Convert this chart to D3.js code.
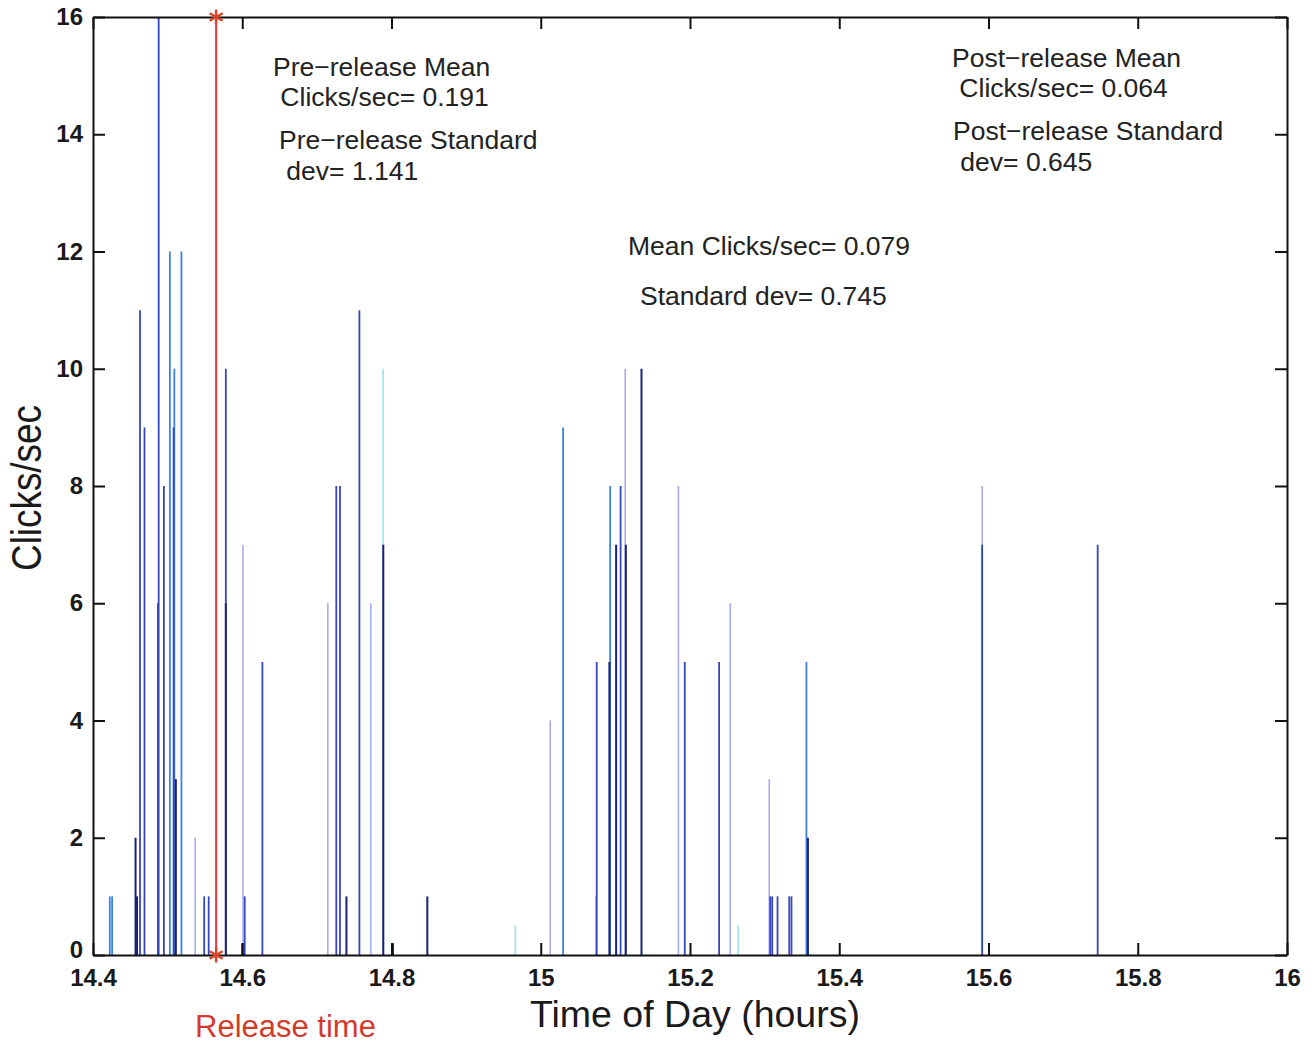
<!DOCTYPE html>
<html>
<head>
<meta charset="utf-8">
<script src="https://cdn.jsdelivr.net/npm/d3@7"></script>
<style>
  html, body { margin: 0; padding: 0; background: #fff; }
  svg { display: block; font-family: "Liberation Sans", Arial, Helvetica, sans-serif; }
</style>
</head>
<body>
<svg id="chart" width="1314" height="1045"></svg>
<script>
// ---- data (time of day in hours, clicks/sec) ----
const navyTimes  = [14.457, 14.459, 14.511, 14.578, 14.600, 14.7396, 14.789, 14.802, 14.848, 15.092, 15.101, 15.114, 15.135, 15.358];
const navyValues = [2, 1, 3, 6, 0.2, 1, 7, 0.2, 1, 5, 7, 7, 10, 2];

const blueTimes  = [14.463, 14.469, 14.487, 14.488, 14.495, 14.508, 14.549, 14.555, 14.578, 14.6033, 14.627, 14.726, 14.731, 14.757, 15.075, 15.107, 15.193, 15.239, 15.3075, 15.3102, 15.3173, 15.333, 15.336, 15.5915, 15.7463];
const blueValues = [11, 9, 6, 16, 8, 9, 1, 1, 10, 1, 5, 8, 8, 11, 5, 8, 5, 5, 1, 1, 1, 1, 1, 7, 7];

const lightTimes  = [14.4225, 14.4256, 14.503, 14.509, 14.5185, 15.030, 15.093, 15.356];
const lightValues = [1, 1, 12, 10, 12, 9, 8, 5];

const paleTimes  = [14.537, 14.601, 14.7147, 14.7723, 15.0127, 15.074, 15.1132, 15.1845, 15.2539, 15.3062, 15.5915];
const paleValues = [2, 7, 6, 6, 4, 1, 10, 8, 6, 3, 8];

const cyanTimes  = [14.7887, 14.966, 15.2646];
const cyanValues = [10, 0.5, 0.5];

const releaseTime = 14.565;

const xTicks = [14.4, 14.6, 14.8, 15, 15.2, 15.4, 15.6, 15.8, 16];
const xTickLabels = ["14.4", "14.6", "14.8", "15", "15.2", "15.4", "15.6", "15.8", "16"];
const yTicks = [0, 2, 4, 6, 8, 10, 12, 14, 16];

const preStats  = ["Pre\u2212release Mean", " Clicks/sec= 0.191", "Pre\u2212release Standard", " dev= 1.141"];
const allStats  = ["Mean Clicks/sec= 0.079", "Standard dev= 0.745"];
const postStats = ["Post\u2212release Mean", " Clicks/sec= 0.064", "Post\u2212release Standard", " dev= 0.645"];

(function () {
// ---- layout ----
const L = 93, R = 1287, T = 17, B = 955;
const svg = d3.select("#chart");
const x = d3.scaleLinear().domain([14.4, 16]).range([L, R]);
const y = d3.scaleLinear().domain([0, 16]).range([B, T]);

const series = [
  {t: paleTimes,  v: paleValues,  c: "#a3adef", w: 1.6},
  {t: cyanTimes,  v: cyanValues,  c: "#9fe0f0", w: 1.6},
  {t: lightTimes, v: lightValues, c: "#3d82e2", w: 1.8},
  {t: blueTimes,  v: blueValues,  c: "#3646c0", w: 1.8},
  {t: navyTimes,  v: navyValues,  c: "#1b2175", w: 2}
];

const gBars = svg.append("g");
series.forEach(s => {
  gBars.append("g").selectAll("line")
    .data(d3.zip(s.t, s.v))
    .join("line")
    .attr("x1", d => x(d[0])).attr("x2", d => x(d[0]))
    .attr("y1", y(0)).attr("y2", d => y(d[1]))
    .attr("stroke", s.c).attr("stroke-width", s.w);
});

// ---- axes (MATLAB-style box with inward ticks) ----
const ax = svg.append("g");
const axBottom = d3.axisBottom(x).tickValues(xTicks).tickSizeInner(-12).tickSizeOuter(0)
  .tickFormat((d, i) => xTickLabels[i]).tickPadding(14);
ax.append("g").attr("transform", `translate(0,${B})`).call(axBottom);
const axTop = d3.axisTop(x).tickValues(xTicks).tickSizeInner(-12).tickSizeOuter(0).tickFormat("");
ax.append("g").attr("transform", `translate(0,${T})`).call(axTop);
const axLeft = d3.axisLeft(y).tickValues(yTicks).tickSizeInner(-12).tickSizeOuter(0).tickPadding(10);
const gLeft = ax.append("g").attr("transform", `translate(${L},0)`).call(axLeft);
const axRight = d3.axisRight(y).tickValues(yTicks).tickSizeInner(-12).tickSizeOuter(0).tickFormat("");
ax.append("g").attr("transform", `translate(${R},0)`).call(axRight);
ax.selectAll(".domain").attr("stroke", "#111").attr("stroke-width", 2);
ax.selectAll(".tick line").attr("stroke", "#111").attr("stroke-width", 2);
ax.selectAll("text").attr("font-family", "'Liberation Sans', Arial, sans-serif")
  .attr("font-size", 24).attr("font-weight", "bold").attr("fill", "#1a1a1a");
gLeft.selectAll(".tick").filter(d => d === 0).select("text").attr("dy", "0.1em");

// ---- release line ----
svg.append("line")
  .attr("x1", x(releaseTime)).attr("x2", x(releaseTime))
  .attr("y1", y(16)).attr("y2", y(0))
  .attr("stroke", "#e8353b").attr("stroke-width", 2);
const star = d3.symbol().type(d3.symbolAsterisk).size(160);
[16, 0].forEach(v => {
  svg.append("path").attr("d", star())
    .attr("transform", `translate(${x(releaseTime)},${y(v)})`)
    .attr("stroke", "#d8452a").attr("stroke-width", 2.5).attr("fill", "none");
});

// ---- annotations ----
const ann = svg.append("g").attr("font-size", 26.5).attr("fill", "#222");
const putLines = (lines, xs, ys) => lines.forEach((s, i) =>
  ann.append("text").attr("x", xs[i]).attr("y", ys[i]).attr("xml:space", "preserve").text(s));
putLines(preStats,  [273, 273, 279, 279], [76, 106, 149, 180]);
putLines(allStats,  [628, 640], [255, 305]);
putLines(postStats, [952, 952, 953, 953], [67, 97, 140, 171]);

// ---- titles ----
svg.append("text").attr("x", 695).attr("y", 1027).attr("text-anchor", "middle")
  .attr("font-size", 37.5).attr("fill", "#1a1a1a").text("Time of Day (hours)");
svg.append("text").attr("transform", "translate(41,488) rotate(-90)").attr("text-anchor", "middle")
  .attr("font-size", 42).attr("fill", "#1a1a1a")
  .attr("textLength", 166).attr("lengthAdjust", "spacingAndGlyphs").text("Clicks/sec");
svg.append("text").attr("x", 195).attr("y", 1037)
  .attr("font-size", 31).attr("fill", "#d23a2c").text("Release time");
})();
</script>
</body>
</html>
